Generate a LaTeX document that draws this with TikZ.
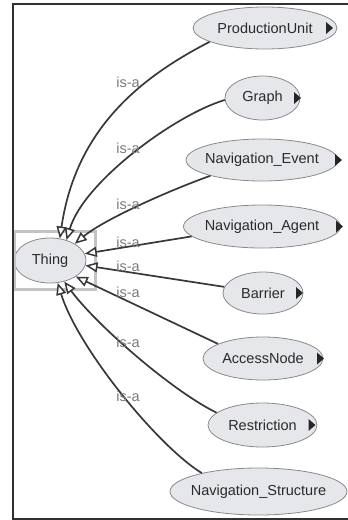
\documentclass[tikz,border=0pt]{standalone}
\usepackage{fontspec}
\setmainfont{Liberation Sans}
\usetikzlibrary{arrows.meta,calc,shapes.geometric}
\definecolor{nodefill}{HTML}{E6E7EB}
\definecolor{nodeline}{HTML}{8A8A8A}
\definecolor{edgecol}{HTML}{383838}
\definecolor{lblcol}{HTML}{7A7A7A}
\definecolor{selcol}{HTML}{C4C4C4}
\definecolor{txtcol}{HTML}{2A2A2A}
\definecolor{framecol}{HTML}{303030}
\newcommand{\ntext}[1]{\makebox[0pt]{#1}}
\begin{document}
\begin{tikzpicture}[x=1pt,y=-1pt,
  cls/.style={ellipse, draw=nodeline, line width=0.8pt, fill=nodefill, inner sep=0pt,
              text=txtcol, font=\fontsize{14.5}{17}\selectfont},
  isa/.style={draw=edgecol, line width=1.7pt,
              -{Triangle[length=12pt,width=10pt,fill=white,line width=1.5pt]}},
  lbl/.style={text=lblcol, font=\fontsize{14.5}{17}\selectfont, inner sep=0pt},
  tri/.style={fill=black!85}]
\useasboundingbox (0,0) rectangle (348,520);
% frame
\draw[framecol, line width=2pt] (348,4) -- (13,4) -- (13,519) -- (348,519);

% nodes
\node[cls, minimum width=72, minimum height=45] (thing) at (50,260.5) {\ntext{Thing}};
\draw[selcol, line width=3pt] ($(thing.center)+(-36,-29.5)$) rectangle ($(thing.center)+(45,28.5)$);
\draw[framecol, line width=2pt] (13,225) -- (13,295);

\node[cls, minimum width=144, minimum height=42] (pu) at (265,28) {\ntext{ProductionUnit}};
\node[cls, minimum width=75, minimum height=44] (graph) at (262.5,98) {\ntext{Graph}};
\node[cls, minimum width=152, minimum height=42] (ne) at (262,160) {\ntext{Navigation\_Event}};
\node[cls, minimum width=157, minimum height=43] (na) at (262,226.5) {\ntext{Navigation\_Agent}};
\node[cls, minimum width=80, minimum height=42] (barrier) at (263,293) {\ntext{Barrier}};
\node[cls, minimum width=120, minimum height=43] (access) at (263,358.5) {\ntext{AccessNode}};
\node[cls, minimum width=109, minimum height=44] (restr) at (262.5,425) {\ntext{Restriction}};
\node[cls, minimum width=177, minimum height=47] (ns) at (258.5,491.5) {\ntext{Navigation\_Structure}};

% expand triangles
\fill[tri] ($(pu.center)+(61,-6)$) -- ++(7,6) -- ++(-7,6) -- cycle;
\fill[tri] ($(graph.center)+(31.5,-6)$) -- ++(7,6) -- ++(-7,6) -- cycle;
\fill[tri] ($(ne.center)+(73,-6)$) -- ++(7,6) -- ++(-7,6) -- cycle;
\fill[tri] ($(na.center)+(74,-6)$) -- ++(7,6) -- ++(-7,6) -- cycle;
\fill[tri] ($(barrier.center)+(33,-6)$) -- ++(7,6) -- ++(-7,6) -- cycle;
\fill[tri] ($(access.center)+(54,-6)$) -- ++(7,6) -- ++(-7,6) -- cycle;
\fill[tri] ($(restr.center)+(46,-6)$) -- ++(7,6) -- ++(-7,6) -- cycle;

% edges
\draw[isa] (pu.194) .. controls +(-70,36) and +(16,-109) .. (thing.66);
\draw[isa] (graph.183) .. controls +(-50,15) and +(17,-58) .. (thing.51);
\draw[isa] (ne.197) .. controls +(-37,13) and +(30,-25) .. (thing.34);
\draw[isa] (na.188) -- (thing.11);
\draw[isa] (barrier.171) -- (thing.-8);
\draw[isa] (access.162) -- (thing.-32);
\draw[isa] (restr.165) .. controls +(-45,-22) and +(32,43) .. (thing.-56);
\draw[isa] (ns.162) .. controls +(-44,-27) and +(20,65) .. (thing.-71);

% labels
\node[lbl] (l1) at (128,82) {is-a};
\node[lbl] (l2) at (128,148) {is-a};
\node[lbl] (l3) at (128,204) {is-a};
\node[lbl] (l4) at (128,242) {is-a};
\node[lbl] (l5) at (128,266) {is-a};
\node[lbl] (l6) at (128,292) {is-a};
\node[lbl] (l7) at (128,342) {is-a};
\node[lbl] (l8) at (128,396) {is-a};
\end{tikzpicture}
\end{document}
